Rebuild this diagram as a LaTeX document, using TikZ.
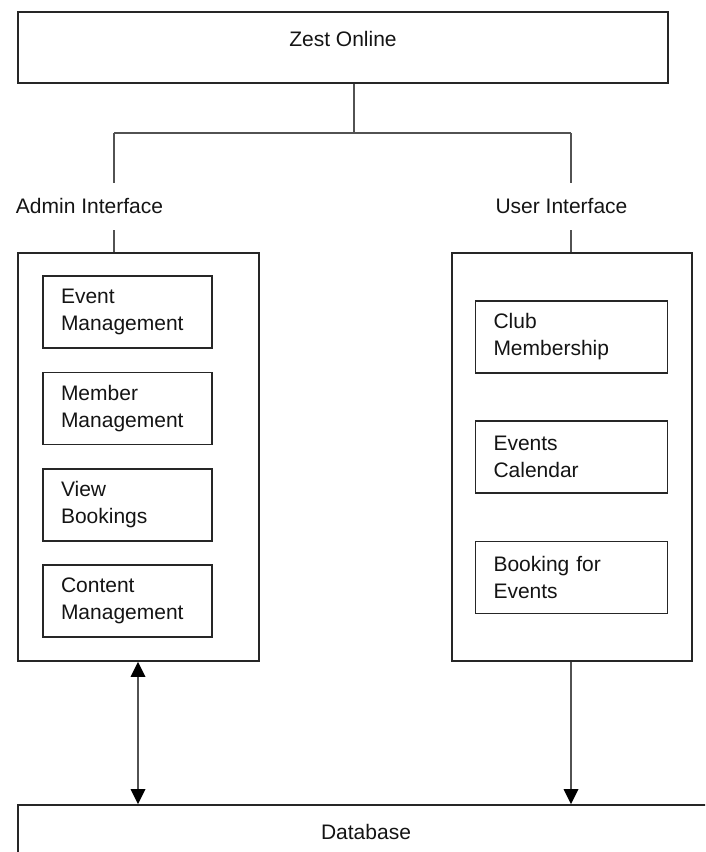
\documentclass[tikz,border=0pt]{standalone}
\usepackage{fontspec}
\setmainfont{Liberation Sans}
\usetikzlibrary{arrows.meta}
\begin{document}
\begin{tikzpicture}[x=1pt,y=-1pt,
  every node/.style={font=\fontsize{21}{27}\selectfont, text=black!92},
  frame/.style={draw=black!85, line width=1.7pt, inner sep=0pt},
  item/.style={draw=black!85, line width=1.5pt, minimum height=72pt, align=left, inner xsep=18pt, inner ysep=0pt},
  link/.style={draw=black!68, line width=1.8pt},
  tip/.tip={Triangle[width=15pt,length=15pt,line width=0pt,fill=black,color=black]},
  arr/.style={link, -tip},
  darr/.style={link, tip-tip}
]
\useasboundingbox (0,0) rectangle (705,852);
\clip (0,0) rectangle (705,852);

% top box
\node[frame, minimum width=650pt, minimum height=71pt] (zest) at (343,47.5) {};
\node (zestlbl) at (343,39) {Zest Online};

% labels
\node (adminlbl) at (89.5,206) {Admin Interface};
\node (userlbl) at (561.5,206) {User Interface};

% big boxes
\node[frame, minimum width=241pt, minimum height=408pt] (adminbox) at (138.5,457) {};
\node[frame, minimum width=240pt, minimum height=408pt] (userbox) at (572,457) {};

% admin items
\node[item, text width=133pt] (a1) at (127.5,312) {Event\\Management};
\node[item, text width=133pt] (a2) at (127.5,408.5) {Member\\Management};
\node[item, text width=133pt] (a3) at (127.5,505) {View\\Bookings};
\node[item, text width=133pt] (a4) at (127.5,601) {Content\\Management};

% user items
\node[item, text width=156pt] (u1) at (571.5,337) {Club\\Membership};
\node[item, text width=156pt] (u2) at (571.5,457) {Events\\Calendar};
\node[item, text width=156pt] (u3) at (571.5,577.5) {Booking for\\Events};

% database
\node[frame, minimum width=696pt, minimum height=54pt] (db) at (366,832) {Database};

% tree connectors
\coordinate (jm) at (354,133);
\coordinate (jl) at (114,133);
\coordinate (jr) at (571,133);
\coordinate (tl) at (114,183);
\coordinate (tr) at (571,183);
\coordinate (bl) at (114,230);
\coordinate (br) at (571,230);
\coordinate (ax) at (138,700);
\coordinate (bx) at (571,700);
\draw[link] (zest.south -| jm) -- (jm);
\draw[link] (jl) -- (jr);
\draw[link] (jl) -- (tl);
\draw[link] (jr) -- (tr);
\draw[link] (bl) -- (bl |- adminbox.north);
\draw[link] (br) -- (br |- userbox.north);

% database arrows
\draw[darr] (ax |- adminbox.south) -- (ax |- db.north);
\draw[arr] (bx |- userbox.south) -- (bx |- db.north);
\end{tikzpicture}
\end{document}
